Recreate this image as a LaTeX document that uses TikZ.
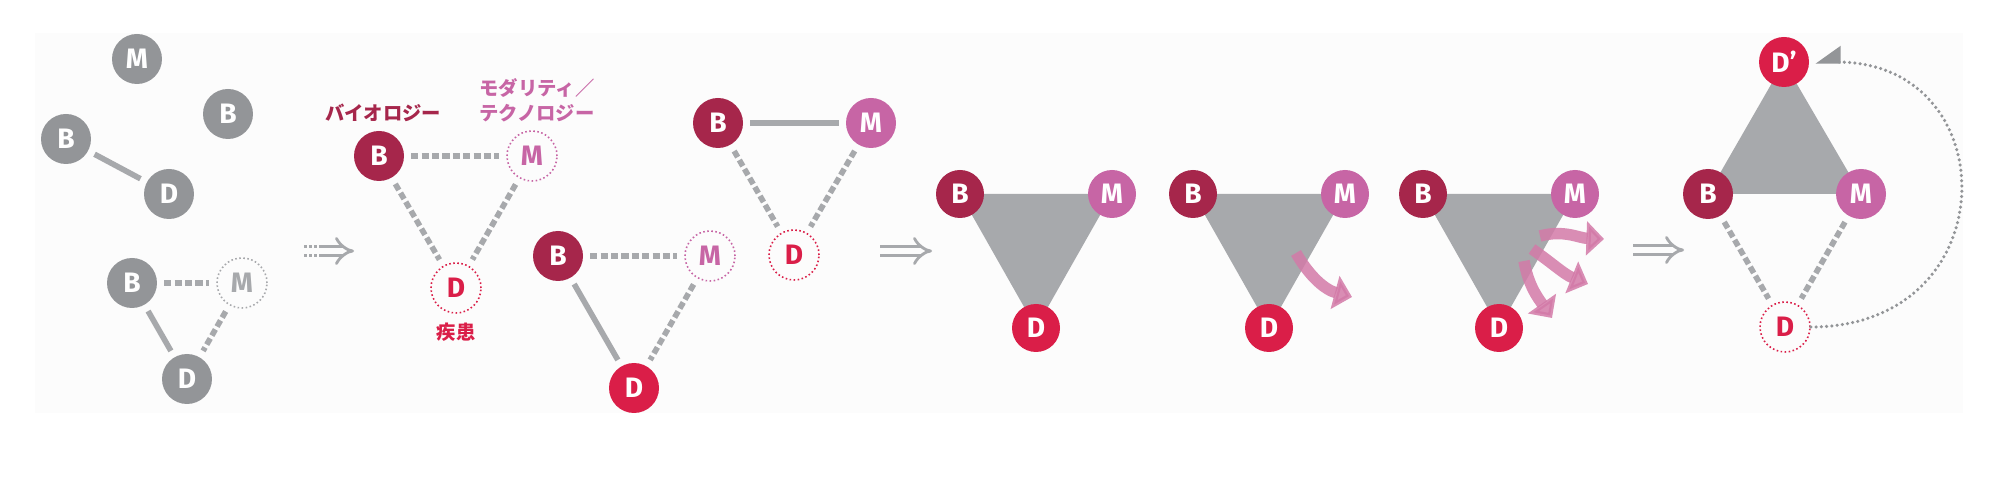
\documentclass[tikz,border=0pt]{standalone}
\usepackage{fontspec}
\setmainfont{Fira Sans}
\newfontfamily\jp{Noto Sans CJK JP}
\usetikzlibrary{arrows.meta,backgrounds}
\definecolor{Bio}{RGB}{166,38,75}
\definecolor{Dis}{RGB}{218,30,72}
\definecolor{Mod}{RGB}{199,101,165}
\definecolor{Mute}{RGB}{147,149,152}
\definecolor{Line}{RGB}{167,169,172}
\definecolor{Flow}{RGB}{211,122,168}
\definecolor{Panel}{RGB}{252,252,252}

\begin{document}
\begin{tikzpicture}[x=0.02cm, y=0.02cm,
    ball/.style={circle, fill=#1, text=white, minimum size=1cm, inner sep=0pt,
      font=\fontsize{16}{16}\selectfont\bfseries},
    ghost/.style={circle, draw=#1, text=#1, minimum size=1cm, inner sep=0pt,
      line width=0.9pt, dash pattern=on 0.9pt off 1.4pt, font=\fontsize{16}{16}\selectfont\bfseries},
    small/.style={minimum size=0.96cm},
    bond/.style={line width=3.2pt, draw=Line, shorten <=4pt, shorten >=4pt},
    weak/.style={bond, dash pattern=on 4pt off 1.9pt},
    face/.style={fill=Line},
    flow/.style={line width=6.5pt, draw=Flow, opacity=0.85, -{Triangle[length=10pt, width=19pt]}},
    imply/.style={double=Panel, double distance=3.8pt, line width=1.6pt, draw=Line, -{Implies}},
    tag/.style={font=\jp\fontsize{11}{14}\selectfont\bfseries, text=#1, align=center},
    backarc/.style={draw=Mute, line width=2pt, line cap=round, dash pattern=on 0pt off 3pt,
      shorten >=3.4pt, -{Triangle[right, length=13pt, width=18pt]}}
  ]
    \useasboundingbox (0,0) rectangle (2000,496);
    % scattered
    \node[ball=Mute] (a1m) at (137,437) {M};
    \node[ball=Mute] (a1b) at (228,382) {B};
    \node[ball=Mute] (a2b) at (66,357) {B};
    \node[ball=Mute] (a2d) at (169,302) {D};
    \draw[bond] (a2b) -- (a2d);
    \node[ball=Mute] (a3b) at (132,213) {B};
    \node[ghost=Line] (a3m) at (242,213) {M};
    \node[ball=Mute] (a3d) at (187,117) {D};
    \draw[weak] (a3b) -- (a3m);
    \draw[bond] (a3b) -- (a3d);
    \draw[weak] (a3m) -- (a3d);
    \coordinate (s1) at (304,245);
    \coordinate (e1) at (354,245);
    \draw[imply, dash pattern=on 1.7pt off 1.1pt on 1.7pt off 1.1pt on 1.7pt off 1.1pt on 40pt off 1pt] (s1) -- (e1);
    % named
    \node[ball=Bio] (b1) at (379,340) {B};
    \node[ghost=Mod] (m1) at (532,340) {M};
    \node[ghost=Dis] (d1) at (456,208) {D};
    \draw[weak] (b1) -- (m1);
    \draw[weak] (b1) -- (d1);
    \draw[weak] (m1) -- (d1);
    \node[tag=Bio] (lb) at (383,383) {バイオロジー};
    \node[tag=Mod] (lm) at (537,396) {モダリティ／\\テクノロジー};
    \node[tag=Dis] (ld) at (456,164) {疾患};
    \node[ball=Bio] (b2) at (558,240) {B};
    \node[ghost=Mod] (m2) at (710,240) {M};
    \node[ball=Dis] (d2) at (634,108) {D};
    \draw[weak] (b2) -- (m2);
    \draw[bond] (b2) -- (d2);
    \draw[weak] (m2) -- (d2);
    \node[ball=Bio] (b3) at (718,373) {B};
    \node[ball=Mod] (m3) at (871,373) {M};
    \node[ghost=Dis] (d3) at (794,241) {D};
    \draw[bond] (b3) -- (m3);
    \draw[weak] (b3) -- (d3);
    \draw[weak] (m3) -- (d3);
    \coordinate (s2) at (880,245);
    \coordinate (e2) at (932,245);
    \draw[imply] (s2) -- (e2);
    % triangles
    \node[ball=Bio, small] (t1b) at (960,302) {B};
    \node[ball=Mod, small] (t1m) at (1112,302) {M};
    \node[ball=Dis, small] (t1d) at (1036,168) {D};
    \node[ball=Bio, small] (t2b) at (1193,302) {B};
    \node[ball=Mod, small] (t2m) at (1345,302) {M};
    \node[ball=Dis, small] (t2d) at (1269,168) {D};
    \node[ball=Bio, small] (t3b) at (1423,302) {B};
    \node[ball=Mod, small] (t3m) at (1575,302) {M};
    \node[ball=Dis, small] (t3d) at (1499,168) {D};
    \coordinate (p1) at (1296,243);
    \coordinate (q1) at (1352,199);
    \draw[flow] (p1) to[out=-60, in=165] (q1);
    \coordinate (p2) at (1540,260);
    \coordinate (q2) at (1604,257);
    \coordinate (p3) at (1532,247);
    \coordinate (q3) at (1588,212);
    \coordinate (p4) at (1524,235);
    \coordinate (q4) at (1552,178);
    \draw[flow] (p2) to[out=15, in=178] (q2);
    \draw[flow] (p3) to[out=-35, in=158] (q3);
    \draw[flow] (p4) to[out=-80, in=125] (q4);
    \coordinate (s3) at (1633,246);
    \coordinate (e3) at (1684,246);
    \draw[imply] (s3) -- (e3);
    % shifted
    \node[ball=Dis] (fdp) at (1784,434) {D’};
    \node[ball=Bio] (fb) at (1708,302) {B};
    \node[ball=Mod] (fm) at (1861,302) {M};
    \node[ghost=Dis] (fd) at (1785,169) {D};
    \draw[weak] (fb) -- (fd);
    \draw[weak] (fm) -- (fd);
    \draw[backarc] (fd.east) .. controls +(197,0) and +(198,0) .. (fdp.east);
    \begin{scope}[on background layer]
      \fill[Panel] (35,83) rectangle (1963,463);
      \fill[face] (t1b.center) -- (t1m.center) -- (t1d.center) -- cycle;
      \fill[face] (t2b.center) -- (t2m.center) -- (t2d.center) -- cycle;
      \fill[face] (t3b.center) -- (t3m.center) -- (t3d.center) -- cycle;
      \fill[face] (fb.center) -- (fm.center) -- (fdp.center) -- cycle;
    \end{scope}
  \end{tikzpicture}
\end{document}
